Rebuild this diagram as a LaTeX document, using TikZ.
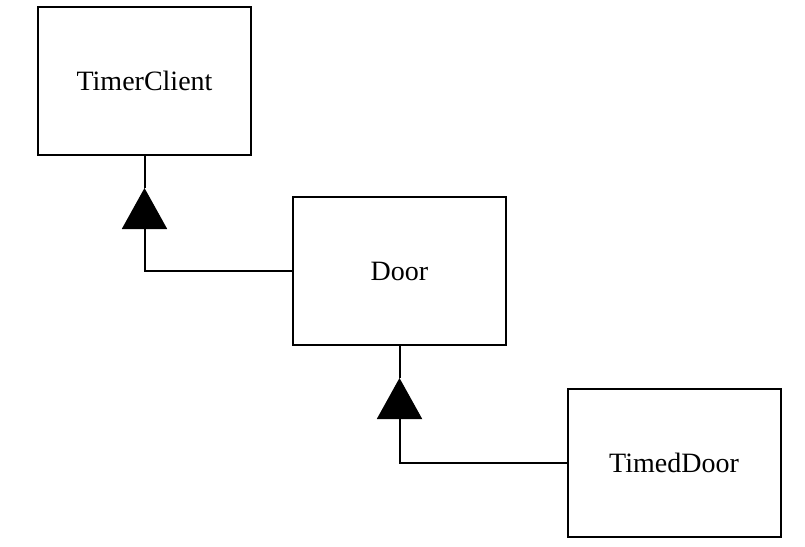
\documentclass[tikz,border=0pt]{standalone}
\usepackage{fontspec}
\setmainfont{Liberation Serif}
\usetikzlibrary{arrows.meta}
\begin{document}
\begin{tikzpicture}[x=1pt,y=-1pt,
  cls/.style={draw,line width=2pt,minimum width=213pt,minimum height=148pt,inner sep=0pt,font=\fontsize{28}{32}\selectfont},
  conn/.style={line width=2pt},
  gen/.style={conn,-{Triangle[length=41pt,width=45pt]}}]
\useasboundingbox (0,0) rectangle (805,546);
\node[cls] (tc) at (144.5,81) {TimerClient};
\node[cls] (door) at (399.5,271) {Door};
\node[cls] (td) at (674,462.5) {TimedDoor};
\coordinate (t1) at (144.5,188);
\coordinate (t2) at (399.5,378);
\draw[gen] (door.west) -| (t1);
\draw[conn] (t1) -- (tc.south);
\draw[gen] (td.west) -| (t2);
\draw[conn] (t2) -- (door.south);
\end{tikzpicture}
\end{document}
